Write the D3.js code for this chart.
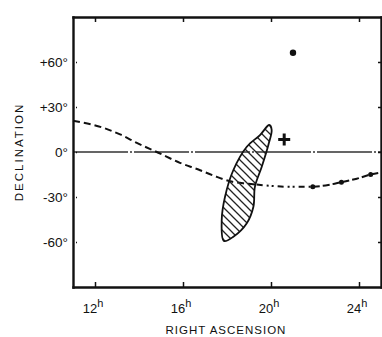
<!DOCTYPE html>
<html>
<head>
<meta charset="utf-8">
<script src="https://cdn.jsdelivr.net/npm/d3@7"></script>
<style>
  body { margin: 0; background: #fff; }
  svg { display: block; }
  text { font-family: "Liberation Sans", Arial, sans-serif; fill: #111; }
</style>
</head>
<body>
<div id="chart"></div>
<script>
var width = 382;
var height = 337;

// axis ticks
var raTicks = [12, 16, 20, 24];
var decTicks = [60, 30, 0, -30, -60];
var decLabels = ["+60°", "+30°", "0°", "-30°", "-60°"];

// dashed track, left part (RA in hours, Dec in degrees)
var trackRA = [11.0, 12.38, 13.14, 13.9, 14.88, 15.86, 16.7, 17.4, 18.14, 18.8, 19.35];
var trackDec = [20.8, 16.1, 11.7, 6.1, -0.5, -7.2, -11.7, -15.8, -19.5, -21.0, -21.7];

// dash-dot part after the error box
var track2RA = [19.35, 20.1, 20.86, 21.9];
var track2Dec = [-21.7, -22.7, -23.2, -23.2];

// dashed part to the right edge
var track3RA = [21.9, 22.6, 23.2, 23.9, 24.53, 25.0];
var track3Dec = [-23.2, -22.0, -20.1, -17.8, -15.0, -13.6];

// markers on the track
var markRA = [21.9, 23.2, 24.53];
var markDec = [-23.2, -20.1, -15.0];

// error box outline (hatched)
var boxRA = [19.92, 19.5, 18.9, 18.29, 17.91, 17.76, 17.86, 18.29, 18.9, 19.2, 19.27, 19.58, 19.88, 20.03];
var boxDec = [18, 11.3, 3.5, -12, -29.8, -45.3, -59.3, -56.5, -47.5, -36.5, -23.1, -9.8, 4.7, 14.7];

// single sources
var crossRA = [20.6], crossDec = [8.3];
var dotRA = [21.0], dotDec = [66.2];

var svg = d3.select("#chart").append("svg")
  .attr("width", width)
  .attr("height", height);

var x = d3.scaleLinear().domain([11, 25]).range([73, 381]);
var y = d3.scaleLinear().domain([-90, 90]).range([287, 17]);

// hatch pattern
var defs = svg.append("defs");
defs.append("pattern")
  .attr("id", "hatch")
  .attr("patternUnits", "userSpaceOnUse")
  .attr("width", 8).attr("height", 8)
  .append("path")
  .attr("d", "M0,0 L8,8 M-2,6 L2,10 M6,-2 L10,2")
  .attr("stroke", "#222")
  .attr("stroke-width", 1.3);

// declination zero line
svg.append("line")
  .attr("x1", x(11)).attr("x2", x(25))
  .attr("y1", y(0)).attr("y2", y(0))
  .attr("stroke", "#333")
  .attr("stroke-width", 1.4)
  .attr("stroke-dasharray", "55,2,2,2");

var line = d3.line()
  .x(function(d) { return x(d[0]); })
  .y(function(d) { return y(d[1]); })
  .curve(d3.curveMonotoneX);

svg.append("path")
  .datum(d3.zip(trackRA, trackDec))
  .attr("d", line)
  .attr("fill", "none")
  .attr("stroke", "#111")
  .attr("stroke-width", 2)
  .attr("stroke-dasharray", "7,4");

svg.append("path")
  .datum(d3.zip(track2RA, track2Dec))
  .attr("d", line)
  .attr("fill", "none")
  .attr("stroke", "#111")
  .attr("stroke-width", 2)
  .attr("stroke-dasharray", "6,4,2,3,2,4");

svg.append("path")
  .datum(d3.zip(track3RA, track3Dec))
  .attr("d", line)
  .attr("fill", "none")
  .attr("stroke", "#111")
  .attr("stroke-width", 2)
  .attr("stroke-dasharray", "7,3");

svg.selectAll(".mark")
  .data(d3.zip(markRA, markDec))
  .enter().append("circle")
  .attr("class", "mark")
  .attr("cx", function(d) { return x(d[0]); })
  .attr("cy", function(d) { return y(d[1]); })
  .attr("r", 2.5)
  .attr("fill", "#111");

// error box
var boxLine = d3.line()
  .x(function(d) { return x(d[0]); })
  .y(function(d) { return y(d[1]); })
  .curve(d3.curveCatmullRomClosed);

svg.append("path")
  .datum(d3.zip(boxRA, boxDec))
  .attr("d", boxLine)
  .attr("fill", "url(#hatch)")
  .attr("stroke", "#111")
  .attr("stroke-width", 1.8);

// cross
svg.selectAll(".cross")
  .data(d3.zip(crossRA, crossDec))
  .enter().append("path")
  .attr("class", "cross")
  .attr("transform", function(d) { return "translate(" + x(d[0]) + "," + y(d[1]) + ")"; })
  .attr("d", "M-6,0 L6,0 M0,-6 L0,6")
  .attr("stroke", "#111")
  .attr("stroke-width", 3);

// dot
svg.selectAll(".dot")
  .data(d3.zip(dotRA, dotDec))
  .enter().append("circle")
  .attr("class", "dot")
  .attr("cx", function(d) { return x(d[0]); })
  .attr("cy", function(d) { return y(d[1]); })
  .attr("r", 3.2)
  .attr("fill", "#111");

// axes: inward ticks on all four sides
var axBottom = svg.append("g")
  .attr("transform", "translate(0," + y(-90) + ")")
  .call(d3.axisBottom(x).tickValues(raTicks).tickSizeInner(-5).tickSizeOuter(0).tickFormat(""));
var axTop = svg.append("g")
  .attr("transform", "translate(0," + y(90) + ")")
  .call(d3.axisTop(x).tickValues(raTicks).tickSizeInner(-5).tickSizeOuter(0).tickFormat(""));
var axLeft = svg.append("g")
  .attr("transform", "translate(" + x(11) + ",0)")
  .call(d3.axisLeft(y).tickValues(decTicks).tickSizeInner(-4).tickSizeOuter(0).tickFormat(""));
var axRight = svg.append("g")
  .attr("transform", "translate(" + x(25) + ",0)")
  .call(d3.axisRight(y).tickValues(decTicks).tickSizeInner(-3).tickSizeOuter(0).tickFormat(""));

[axBottom, axTop, axLeft, axRight].forEach(function(g) {
  g.select(".domain").attr("stroke", "#111").attr("stroke-width", 2.4).attr("stroke-linecap", "square");
  g.selectAll(".tick line").attr("stroke", "#111").attr("stroke-width", 1.5);
});
axLeft.selectAll(".tick line").attr("x1", 3);

// tick labels
var raLab = svg.selectAll(".ralab")
  .data(raTicks)
  .enter().append("text")
  .attr("class", "ralab")
  .attr("x", function(d) { return x(d) - 2; })
  .attr("y", 313)
  .attr("text-anchor", "middle")
  .style("font-size", "13px");
raLab.append("tspan").text(function(d) { return d; });
raLab.append("tspan").attr("dy", -6).style("font-size", "11px").text("h");

svg.selectAll(".declab")
  .data(decTicks)
  .enter().append("text")
  .attr("class", "declab")
  .attr("x", 68)
  .attr("y", function(d) { return y(d) + 5; })
  .attr("text-anchor", "end")
  .style("font-size", "13.5px")
  .text(function(d, i) { return decLabels[i]; });

// axis titles
svg.append("text")
  .attr("x", 226).attr("y", 334)
  .attr("text-anchor", "middle")
  .style("font-size", "11.5px")
  .style("letter-spacing", "1px")
  .text("RIGHT ASCENSION");

svg.append("text")
  .attr("transform", "translate(23,152) rotate(-90)")
  .attr("text-anchor", "middle")
  .style("font-size", "11.5px")
  .style("letter-spacing", "2px")
  .text("DECLINATION");
</script>
</body>
</html>
